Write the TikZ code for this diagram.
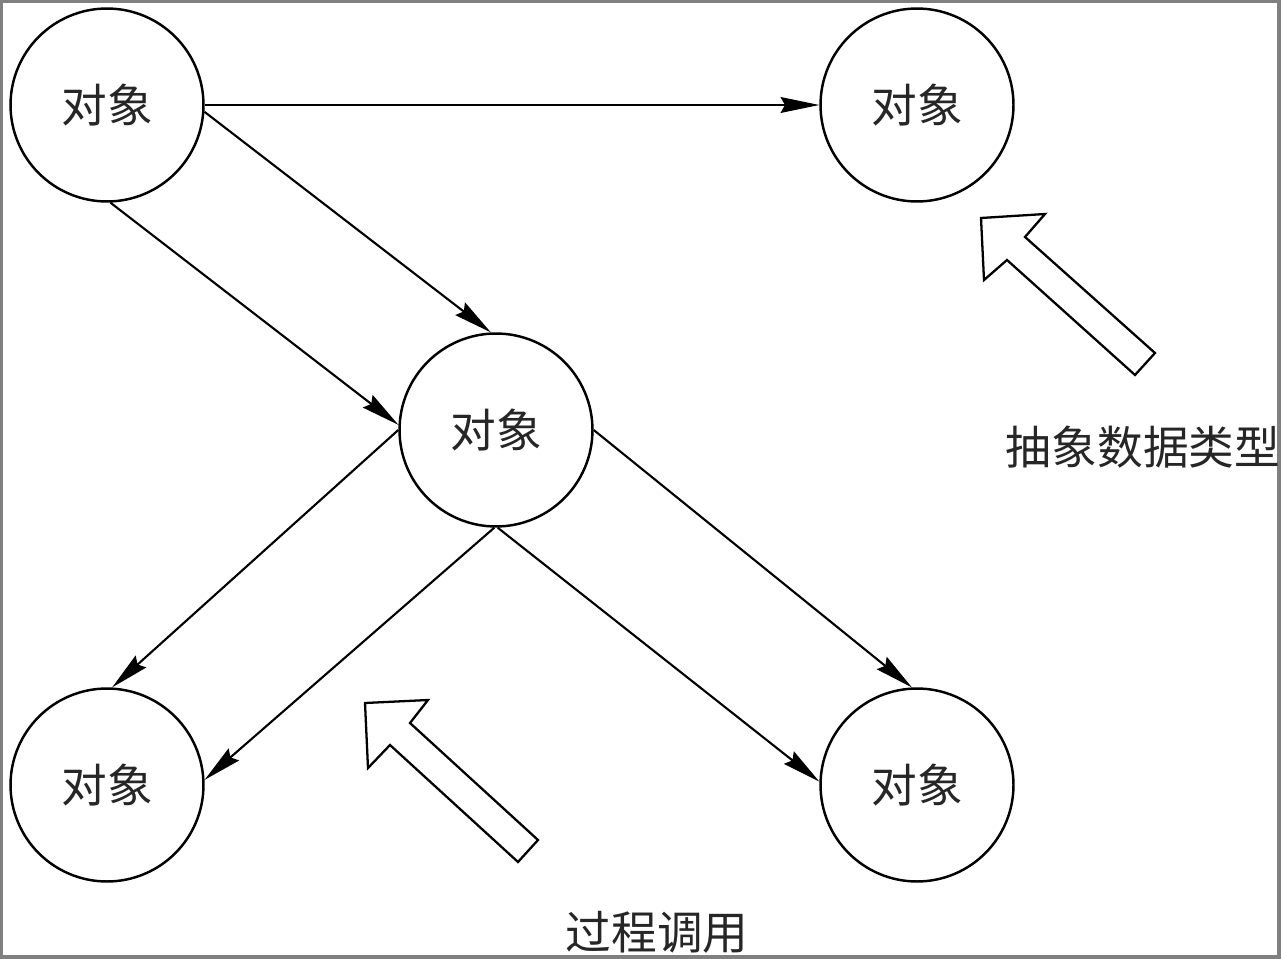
\documentclass[tikz,border=0pt]{standalone}
\usepackage{fontspec}
\newfontfamily\cjk{Noto Sans CJK SC}
\usetikzlibrary{arrows.meta}
\tikzset{
  obj/.style={circle, draw=black, line width=1.4pt, minimum size=3.86cm, inner sep=0pt, font=\cjk\fontsize{26}{31}\selectfont, text=black!85},
  conn/.style={line width=1.2pt, -{Stealth[length=22pt, width=9pt, inset=2.5pt]}},
  blockarrow/.style={draw=black, line width=1.3pt, fill=white, line join=miter},
  lbl/.style={inner sep=0pt, font=\cjk\fontsize{26}{31}\selectfont, text=black!85},
  frame/.style={draw=black!50, line width=1.9pt}
}
\begin{document}
\begin{tikzpicture}[x=0.02cm, y=-0.02cm]
\useasboundingbox (0,0) rectangle (1281,959);
\fill[white] (0,0) rectangle (1281,959);
\draw[frame] (1,1) rectangle (1279,957);

\node[obj] (a) at (107,105) {对象};
\node[obj] (b) at (917,105) {对象};
\node[obj] (c) at (496,430) {对象};
\node[obj] (d) at (107,785) {对象};
\node[obj] (e) at (917,785) {对象};

\draw[conn] (a.east) -- (b.west);
\draw[conn] (a.-4) -- (c.93);
\draw[conn] (a.-88) -- (c.177);
\draw[conn] (c.180) -- (d.87);
\draw[conn] (c.-91) -- (d.3);
\draw[conn] (c.0) -- (e.93);
\draw[conn] (c.-89) -- (e.178);

\draw[blockarrow] (981,218) -- (1045,214) -- (1025,237) -- (1155,353) -- (1135,375) -- (1007,260) -- (984,280) -- cycle;
\draw[blockarrow] (365,703) -- (428,700) -- (410,723) -- (538,840) -- (518,862) -- (390,745) -- (368,768) -- cycle;

\node[lbl] (adt) at (1143,447) {抽象数据类型};
\node[lbl] (proc) at (657,932) {过程调用};
\end{tikzpicture}
\end{document}
